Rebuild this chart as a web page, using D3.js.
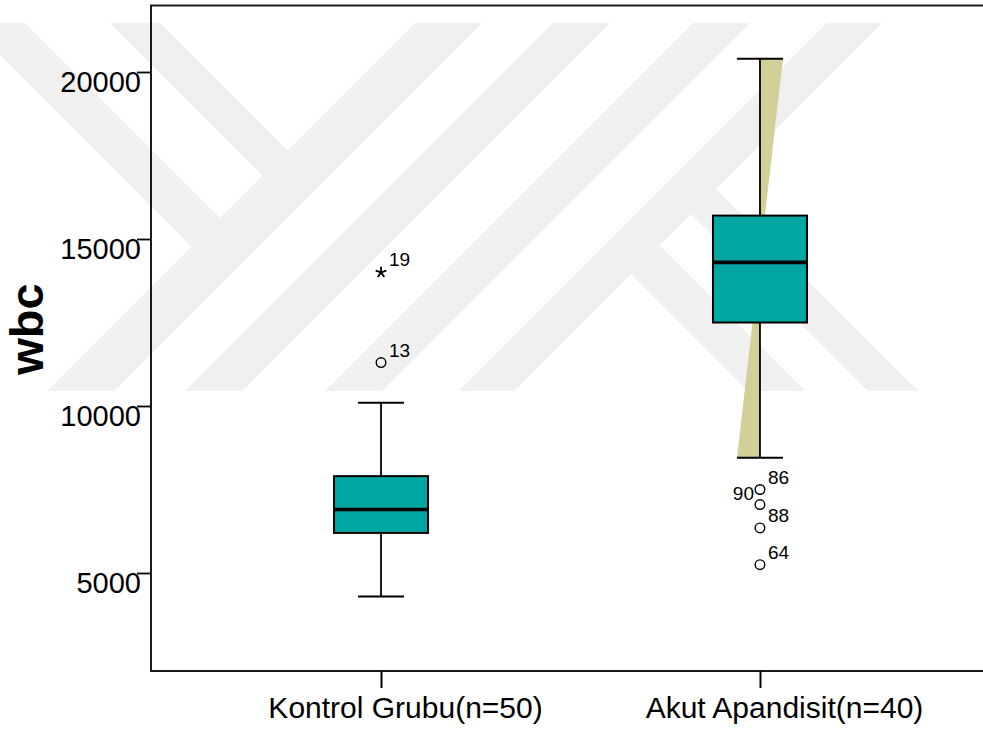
<!DOCTYPE html>
<html>
<head>
<meta charset="utf-8">
<script src="https://cdn.jsdelivr.net/npm/d3@7"></script>
<style>
  html, body { margin: 0; padding: 0; background: #fff; }
  svg { display: block; font-family: "Liberation Sans", Arial, sans-serif; }
</style>
</head>
<body>
<svg id="chart" width="983" height="731"></svg>
<script>
// ---- data ----
const categories = ["Kontrol Grubu(n=50)", "Akut Apandisit(n=40)"];
const whiskerLow  = [4300, 8450];
const q1          = [6200, 12500];
const median      = [6900, 14300];
const q3          = [7900, 15700];
const whiskerHigh = [10100, 20400];
const shadedWhisker = [false, true];

const outlierGroup     = [0, 0, 1, 1, 1, 1];
const outlierValue     = [14000, 11300, 7500, 7050, 6350, 5250];
const outlierCase      = ["19", "13", "86", "90", "88", "64"];
const outlierExtreme   = [true, false, false, false, false, false];
const outlierLabelLeft = [false, false, false, true, false, false];

const yTicks = [5000, 10000, 15000, 20000];
const yTitle = "wbc";

// ---- layout ----
const svg = d3.select("#chart");
const frame = { left: 151, top: 5.5, bottom: 671, right: 990 };
const boxHalf = 47, capHalf = 23;
const FONT = '"Liberation Sans", Arial, sans-serif';

const y = d3.scaleLinear().domain([5000, 20000]).range([573, 72]);
const x = d3.scalePoint().domain(categories).range([frame.left, frame.right]).padding(0.607);

// ---- background watermark: diagonal bands ----
const wmTop = 23, wmBottom = 391, wmSpan = wmBottom - wmTop;
// each band: dir +1 runs down-right, -1 runs down-left; a/b = x of its edges at wmTop
const stemC = (415 + 482) / 2, armC = (827 + 882) / 2;
const bands = [
  { dir: -1, a: 415, b: 482 },
  { dir: -1, a: 553, b: 610 },
  { dir: -1, a: 693, b: 750 },
  { dir: -1, a: 827, b: 882 },
  { dir: 1, a: -32, b: 25,  end: stemC },
  { dir: 1, a: 110, b: 160, end: stemC },
  { dir: 1, a: 500, b: 550, start: armC },
  { dir: 1, a: 380, b: 437, start: armC }
];
const clip = svg.append("defs").append("clipPath").attr("id", "wmclip");
clip.append("rect").attr("x", 0).attr("y", wmTop).attr("width", 983).attr("height", wmSpan);
const wm = svg.append("g").attr("clip-path", "url(#wmclip)");
bands.forEach(bd => {
  let pts;
  if (bd.dir === -1) {
    pts = [[bd.a, wmTop], [bd.b, wmTop], [bd.b - wmSpan - 60, wmBottom + 60], [bd.a - wmSpan - 60, wmBottom + 60]];
  } else if (bd.end !== undefined) {
    const ta = (bd.end - bd.a) / 2, tb = (bd.end - bd.b) / 2;
    pts = [[bd.a - 40, wmTop - 40], [bd.b - 40, wmTop - 40], [bd.b + tb, wmTop + tb], [bd.a + ta, wmTop + ta]];
  } else {
    const ta = (bd.start - bd.a) / 2, tb = (bd.start - bd.b) / 2;
    pts = [[bd.b + tb, wmTop + tb], [bd.a + ta, wmTop + ta], [bd.a + wmSpan + 60, wmBottom + 60], [bd.b + wmSpan + 60, wmBottom + 60]];
  }
  wm.append("path").attr("d", "M" + pts.map(p => p.join(",")).join("L") + "Z").attr("fill", "#f0f0f0");
});

// ---- boxes ----
const groups = categories.map((c, i) => ({
  cat: c, lo: whiskerLow[i], q1: q1[i], med: median[i], q3: q3[i], hi: whiskerHigh[i], shade: shadedWhisker[i]
}));

const g = svg.append("g");

// shaded wedge spanning the whisker range
g.selectAll("path.wedge").data(groups.filter(d => d.shade)).join("path")
  .attr("class", "wedge")
  .attr("fill", "#d3cf99")
  .attr("d", d => {
    const cx = x(d.cat);
    return `M${cx},${y(d.hi)}L${cx + capHalf},${y(d.hi)}L${cx - capHalf},${y(d.lo)}L${cx},${y(d.lo)}Z`;
  });

// whisker stems
g.selectAll("line.stem").data(groups).join("line")
  .attr("x1", d => x(d.cat)).attr("x2", d => x(d.cat))
  .attr("y1", d => y(d.hi)).attr("y2", d => y(d.lo))
  .attr("stroke", "#000").attr("stroke-width", 1.8);

// whisker caps
["hi", "lo"].forEach(k => {
  g.selectAll("line.cap-" + k).data(groups).join("line")
    .attr("x1", d => x(d.cat) - capHalf).attr("x2", d => x(d.cat) + capHalf)
    .attr("y1", d => y(d[k])).attr("y2", d => y(d[k]))
    .attr("stroke", "#000").attr("stroke-width", 2);
});

// boxes
g.selectAll("rect.box").data(groups).join("rect")
  .attr("x", d => x(d.cat) - boxHalf).attr("width", boxHalf * 2)
  .attr("y", d => y(d.q3)).attr("height", d => y(d.q1) - y(d.q3))
  .attr("fill", "#00a6a1").attr("stroke", "#000").attr("stroke-width", 2);

// medians
g.selectAll("line.med").data(groups).join("line")
  .attr("x1", d => x(d.cat) - boxHalf).attr("x2", d => x(d.cat) + boxHalf)
  .attr("y1", d => y(d.med)).attr("y2", d => y(d.med))
  .attr("stroke", "#000").attr("stroke-width", 3.6);

// ---- outliers ----
const outliers = outlierValue.map((v, i) => ({
  cx: x(categories[outlierGroup[i]]), cy: y(v), id: outlierCase[i], extreme: outlierExtreme[i], left: outlierLabelLeft[i]
}));

g.selectAll("circle.out").data(outliers.filter(d => !d.extreme)).join("circle")
  .attr("cx", d => d.cx).attr("cy", d => d.cy).attr("r", 4.8)
  .attr("fill", "none").attr("stroke", "#000").attr("stroke-width", 1.4);

const star = r => d3.range(5).map(k => {
  const a = -Math.PI / 2 + k * 2 * Math.PI / 5;
  return `M0,0L${(r * Math.cos(a)).toFixed(2)},${(r * Math.sin(a)).toFixed(2)}`;
}).join("");
g.selectAll("path.ext").data(outliers.filter(d => d.extreme)).join("path")
  .attr("transform", d => `translate(${d.cx},${d.cy})`)
  .attr("d", star(5.6))
  .attr("fill", "none").attr("stroke", "#000").attr("stroke-width", 1.8).attr("stroke-linecap", "butt");

g.selectAll("text.case").data(outliers).join("text")
  .attr("x", d => d.left ? d.cx - 6 : d.cx + 8)
  .attr("y", d => d.left ? d.cy - 5 : d.cy - 6)
  .attr("text-anchor", d => d.left ? "end" : "start")
  .attr("font-family", FONT).attr("font-size", 19).attr("fill", "#000")
  .text(d => d.id);

// ---- frame ----
svg.append("path")
  .attr("d", `M${frame.right},${frame.top}H${frame.left}V${frame.bottom}H${frame.right}`)
  .attr("fill", "none").attr("stroke", "#1a1a1a").attr("stroke-width", 2);

// ---- axes ----
const gY = svg.append("g").attr("transform", `translate(${frame.left},0)`)
  .call(d3.axisLeft(y).tickValues(yTicks).tickSize(14).tickPadding(-4).tickFormat(d3.format("d")));
gY.select(".domain").remove();
gY.selectAll(".tick line").attr("stroke", "#000").attr("stroke-width", 1.8);
gY.selectAll(".tick text").attr("font-family", FONT).attr("font-size", 29).attr("fill", "#000").attr("dy", "0.66em");

const gX = svg.append("g").attr("transform", `translate(0,${frame.bottom})`)
  .call(d3.axisBottom(x).tickSize(17).tickPadding(9));
gX.select(".domain").remove();
gX.selectAll(".tick line").attr("stroke", "#000").attr("stroke-width", 2);
gX.selectAll(".tick text").attr("font-family", FONT).attr("font-size", 30).attr("fill", "#000").attr("dx", 24);

svg.append("text")
  .attr("transform", "translate(43,329) rotate(-90)")
  .attr("text-anchor", "middle")
  .attr("font-family", FONT).attr("font-weight", "bold").attr("font-size", 47).attr("fill", "#000")
  .text(yTitle);
</script>
</body>
</html>
